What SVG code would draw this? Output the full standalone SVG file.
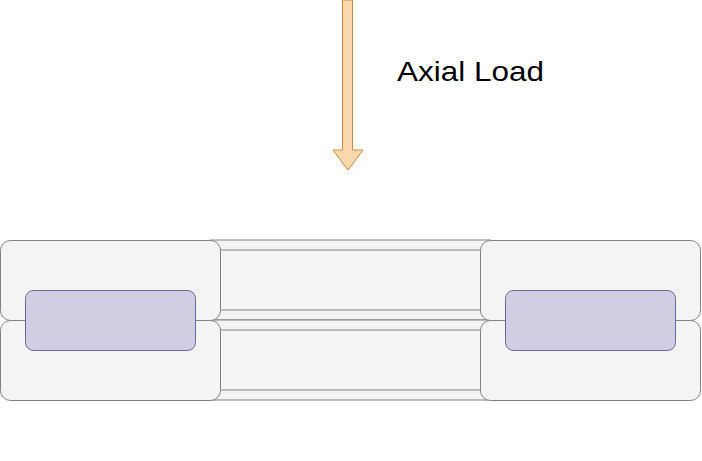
<svg xmlns="http://www.w3.org/2000/svg" width="702" height="461" viewBox="0 0 702 461">
<style>
.g{fill:#f4f4f4;stroke:#808080;stroke-width:1}
.p{fill:#d0cee2;stroke:#6c6896;stroke-width:1}
</style>
<rect width="702" height="461" fill="#fff"/>
<g id="strip-top"><rect class="g" x="210" y="240" width="280" height="80"/><rect class="g" x="210" y="250" width="280" height="60"/></g>
<g id="strip-bottom"><rect class="g" x="210" y="320" width="280" height="80"/><rect class="g" x="210" y="330" width="280" height="60"/></g>
<g id="left-top"><rect class="g" x="0.5" y="240.5" width="220" height="80" rx="10"/></g>
<g id="left-bottom"><rect class="g" x="0.5" y="320.5" width="220" height="80" rx="10"/></g>
<g id="right-top"><rect class="g" x="480.5" y="240.5" width="220" height="80" rx="10"/></g>
<g id="right-bottom"><rect class="g" x="480.5" y="320.5" width="220" height="80" rx="10"/></g>
<g id="left-core"><rect class="p" x="25.5" y="290.5" width="170" height="60" rx="8"/></g>
<g id="right-core"><rect class="p" x="505.5" y="290.5" width="170" height="60" rx="8"/></g>
<g id="connectors"><path d="M342.5 0 V150 H333 L348 170 L363 150 H352.5 V0 Z" fill="#fad7ac" stroke="#d08a3c" stroke-width="1"/></g>
<g id="label"><text x="397" y="81" font-family="Liberation Sans, Arial, sans-serif" font-size="28" textLength="147" lengthAdjust="spacingAndGlyphs" fill="#000">Axial Load</text></g>
</svg>
